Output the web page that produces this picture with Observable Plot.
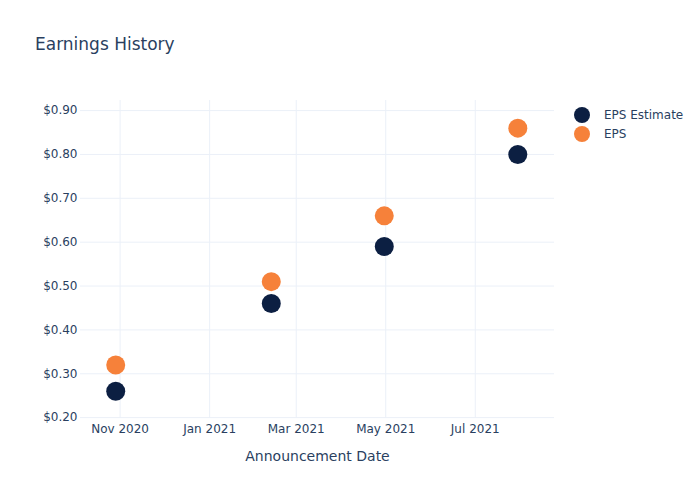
<!DOCTYPE html>
<html>
<head>
<meta charset="utf-8">
<script src="https://cdn.jsdelivr.net/npm/d3@7"></script>
<script src="https://cdn.jsdelivr.net/npm/@observablehq/plot@0.6"></script>
<style>
  html, body { margin: 0; padding: 0; background: #fff; }
  #wrap { position: relative; width: 700px; height: 500px; font-family: "DejaVu Sans", sans-serif; color: #2a3f5f; }
  #title { position: absolute; left: 35px; top: 33px; font-size: 17px; line-height: 22px; }
  #legend { position: absolute; left: 574px; top: 105px; font-size: 12px; }
  .li { display: flex; align-items: center; height: 19px; }
  .sw { width: 16px; height: 16px; border-radius: 50%; margin-right: 14px; }
  #chart svg { display: block; }
</style>
</head>
<body>
<div id="wrap">
  <div id="chart"></div>
  <div id="title">Earnings History</div>
  <div id="legend"></div>
</div>
<script>
const dates = ["2020-10-29", "2021-02-12", "2021-04-30", "2021-07-30"];
const epsEstimate = [0.26, 0.46, 0.59, 0.80];
const epsActual = [0.32, 0.51, 0.66, 0.86];
const seriesNames = ["EPS Estimate", "EPS"];
const seriesColors = ["#0c1f42", "#f6813a"];
const xTicks = ["2020-11-01", "2021-01-01", "2021-03-01", "2021-05-01", "2021-07-01"];
const yTicks = [0.2, 0.3, 0.4, 0.5, 0.6, 0.7, 0.8, 0.9];
const xDomain = ["2020-10-05", "2021-08-24"];
const yDomain = [0.198, 0.923];

const data = [];
dates.forEach((d, i) => data.push({date: new Date(d), value: epsEstimate[i], series: seriesNames[0]}));
dates.forEach((d, i) => data.push({date: new Date(d), value: epsActual[i], series: seriesNames[1]}));

const tickDates = xTicks.map(d => new Date(d));

const chart = Plot.plot({
  width: 700,
  height: 500,
  marginLeft: 80,
  marginRight: 146,
  marginTop: 100,
  marginBottom: 82,
  style: {fontFamily: "DejaVu Sans, sans-serif", fontSize: "12px", color: "#2a3f5f", background: "#fff"},
  x: {type: "utc", domain: xDomain.map(d => new Date(d))},
  y: {domain: yDomain},
  color: {domain: seriesNames, range: seriesColors},
  marks: [
    Plot.gridX(tickDates, {stroke: "#ebf0f8", strokeOpacity: 1, strokeWidth: 1}),
    Plot.gridY(yTicks, {stroke: "#ebf0f8", strokeOpacity: 1, strokeWidth: 1}),
    Plot.axisX(tickDates, {tickSize: 0, tickPadding: 6, tickFormat: d3.utcFormat("%b %Y"), fontSize: 12, label: "Announcement Date", labelAnchor: "center", labelOffset: 42, labelArrow: "none"}),
    Plot.axisY(yTicks, {tickSize: 0, tickPadding: 3, tickFormat: d => "$" + d.toFixed(2), fontSize: 12, label: null}),
    Plot.dot(data, {x: "date", y: "value", fill: "series", r: 9.5, stroke: "none"})
  ]
});
document.getElementById("chart").appendChild(chart);

chart.querySelectorAll("text").forEach(t => {
  if (t.textContent === "Announcement Date") t.setAttribute("font-size", "14px");
});

const legend = document.getElementById("legend");
seriesNames.forEach((n, i) => {
  const row = document.createElement("div");
  row.className = "li";
  const sw = document.createElement("div");
  sw.className = "sw";
  sw.style.background = seriesColors[i];
  const lab = document.createElement("span");
  lab.textContent = n;
  row.appendChild(sw);
  row.appendChild(lab);
  legend.appendChild(row);
});
</script>
</body>
</html>
